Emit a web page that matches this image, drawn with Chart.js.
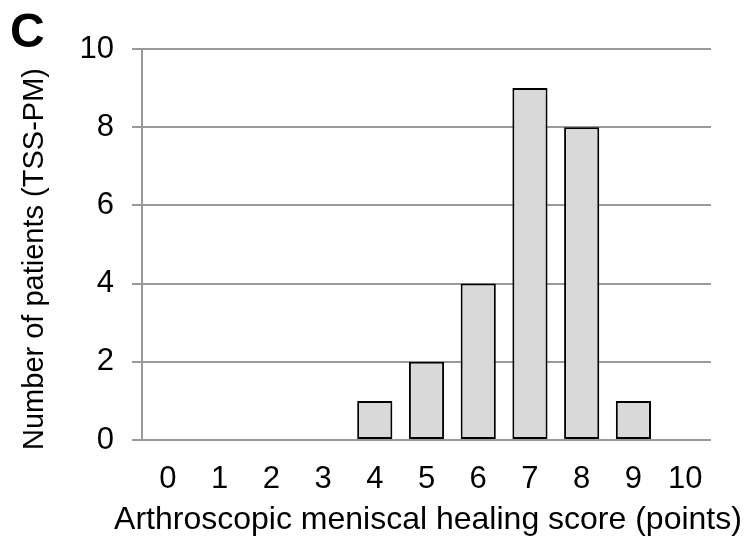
<!DOCTYPE html>
<html>
<head>
<meta charset="utf-8">
<script src="https://cdn.jsdelivr.net/npm/chart.js@4/dist/chart.umd.min.js"></script>
<style>
html,body{margin:0;padding:0;background:#fff;}
#wrap{width:745px;height:539px;position:relative;}
</style>
</head>
<body>
<div id="wrap"><canvas id="c" width="745" height="539"></canvas></div>
<script>
const categories = ['0','1','2','3','4','5','6','7','8','9','10'];
const patients = [0,0,0,0,1,2,4,9,8,1,0];
const yTicks = [0,2,4,6,8,10];
const panelLabel = 'C';
const xTitle = 'Arthroscopic meniscal healing score (points)';
const yTitle = 'Number of patients (TSS-PM)';

const FONT = "'Liberation Sans', Arial, sans-serif";
const gridColor = '#9a9a9a';

const textPlugin = {
  id: 'extraText',
  afterDraw(chart) {
    const ctx = chart.ctx;
    const area = chart.chartArea;
    ctx.save();
    ctx.fillStyle = '#000';
    // panel letter
    ctx.font = "bold 48px " + FONT;
    ctx.textBaseline = 'alphabetic';
    ctx.textAlign = 'left';
    ctx.fillText(panelLabel, 10, 47);
    // x axis title
    ctx.font = "32px " + FONT;
    ctx.textAlign = 'center';
    ctx.fillText(xTitle, (area.left + area.right) / 2 + 1.5, 529);
    // y axis title
    ctx.font = "29px " + FONT;
    ctx.translate(43, (area.top + area.bottom) / 2 + 14.5);
    ctx.rotate(-Math.PI / 2);
    ctx.textAlign = 'center';
    ctx.fillText(yTitle, 0, 0);
    ctx.restore();
  }
};

new Chart(document.getElementById('c'), {
  type: 'bar',
  data: {
    labels: categories,
    datasets: [{
      data: patients,
      backgroundColor: '#d9d9d9',
      borderColor: '#000000',
      borderWidth: 2,
      borderSkipped: false,
      barPercentage: 0.68,
      categoryPercentage: 1.0
    }]
  },
  options: {
    responsive: false,
    animation: false,
    layout: { padding: { top: 49, right: 34, left: 0, bottom: 0 } },
    plugins: { legend: { display: false }, tooltip: { enabled: false } },
    scales: {
      x: {
        grid: { display: false, drawTicks: false },
        border: { display: false },
        ticks: { color: '#000', font: { family: FONT, size: 31 }, padding: 21, maxRotation: 0, autoSkip: false },
        title: { display: false },
        afterFit(scale) { scale.height = 99; }
      },
      y: {
        min: 0, max: 10,
        afterBuildTicks(scale) { scale.ticks = yTicks.map(v => ({ value: v })); },
        grid: { color: gridColor, lineWidth: 2, drawTicks: true, tickLength: 10, tickColor: gridColor },
        border: { display: true, color: gridColor, width: 2 },
        ticks: { color: '#000', font: { family: FONT, size: 31 }, padding: 18 },
        title: { display: false },
        afterFit(scale) { scale.width = 142; }
      }
    }
  },
  plugins: [textPlugin]
});
</script>
</body>
</html>
